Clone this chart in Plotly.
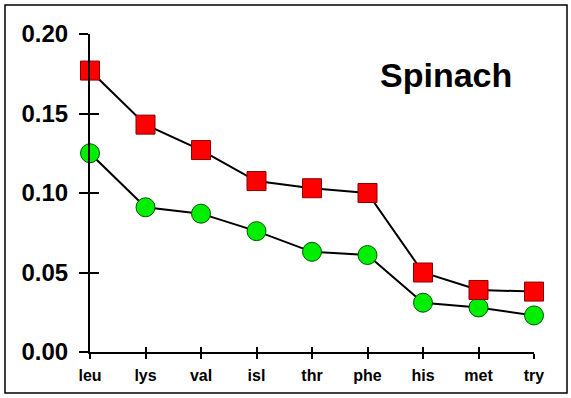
import plotly.graph_objects as go

categories = ["leu", "lys", "val", "isl", "thr", "phe", "his", "met", "try"]
red_values = [0.177, 0.143, 0.127, 0.1075, 0.103, 0.100, 0.050, 0.039, 0.038]
green_values = [0.125, 0.091, 0.087, 0.076, 0.063, 0.061, 0.031, 0.028, 0.023]
y_ticks = [0.00, 0.05, 0.10, 0.15, 0.20]
y_tick_labels = ["0.00", "0.05", "0.10", "0.15", "0.20"]
title_text = "Spinach"

W, H = 571, 398
L, R, T, B = 90, 37, 34, 46
pw, ph = W - L - R, H - T - B

def px_x(p):
    return (p - L) / pw

def px_y(p):
    return (H - B - p) / ph

fig = go.Figure()
fig.add_trace(go.Scatter(
    x=categories, y=green_values, mode="lines+markers",
    line=dict(color="black", width=2),
    marker=dict(symbol="circle", size=19, color="#00ee00",
                line=dict(color="#005500", width=1)),
    cliponaxis=False, showlegend=False))
fig.add_trace(go.Scatter(
    x=categories, y=red_values, mode="lines+markers",
    line=dict(color="black", width=2),
    marker=dict(symbol="square", size=19, color="#ff0000",
                line=dict(color="#880000", width=1)),
    cliponaxis=False, showlegend=False))

font_family = "Liberation Sans, Arial, sans-serif"

fig.update_layout(
    width=W, height=H,
    margin=dict(l=L, r=R, t=T, b=B, pad=0),
    paper_bgcolor="white", plot_bgcolor="white",
    showlegend=False,
    xaxis=dict(
        type="category", categoryorder="array", categoryarray=categories,
        range=[0, len(categories) - 1],
        showgrid=False, zeroline=False,
        showline=True, linecolor="black", linewidth=2,
        ticks="outside", ticklen=5, tickwidth=2, tickcolor="black",
        tickfont=dict(family=font_family, size=16, color="black", weight="bold"),
        ticklabelstandoff=3,
    ),
    yaxis=dict(
        range=[0, 0.2], tickvals=y_ticks, ticktext=y_tick_labels,
        showgrid=False, zeroline=False,
        showline=True, linecolor="black", linewidth=2,
        ticks="outside", ticklen=9, tickwidth=2, tickcolor="black",
        tickfont=dict(family=font_family, size=24, color="black", weight="bold"),
        ticklabelstandoff=6,
    ),
    xaxis2=dict(
        overlaying="x", range=[0, len(categories) - 1],
        tickvals=list(range(len(categories))),
        showticklabels=False, showgrid=False, zeroline=False, showline=False,
        ticks="inside", ticklen=5, tickwidth=2, tickcolor="black",
    ),
    yaxis2=dict(
        overlaying="y", range=[0, 0.2], tickvals=y_ticks,
        showticklabels=False, showgrid=False, zeroline=False, showline=False,
        ticks="inside", ticklen=9, tickwidth=2, tickcolor="black",
    ),
    shapes=[dict(
        type="rect", xref="paper", yref="paper",
        x0=px_x(5), x1=px_x(567), y0=px_y(393), y1=px_y(5),
        line=dict(color="black", width=1.5), fillcolor="rgba(0,0,0,0)",
        layer="below",
    )],
    annotations=[dict(
        text=title_text, xref="paper", yref="paper",
        x=px_x(446), y=px_y(75), xanchor="center", yanchor="middle",
        showarrow=False,
        font=dict(family=font_family, size=34, color="black", weight="bold"),
    )],
)

# invisible helper trace so the secondary axes render
fig.add_trace(go.Scatter(x=[0], y=[0], xaxis="x2", yaxis="y2",
                         mode="markers", marker=dict(opacity=0),
                         hoverinfo="skip", showlegend=False))

fig.write_html("out.html",
               config={"displayModeBar": False, "staticPlot": True},
               post_script="document.body.style.margin='0';document.body.style.overflow='hidden';")
